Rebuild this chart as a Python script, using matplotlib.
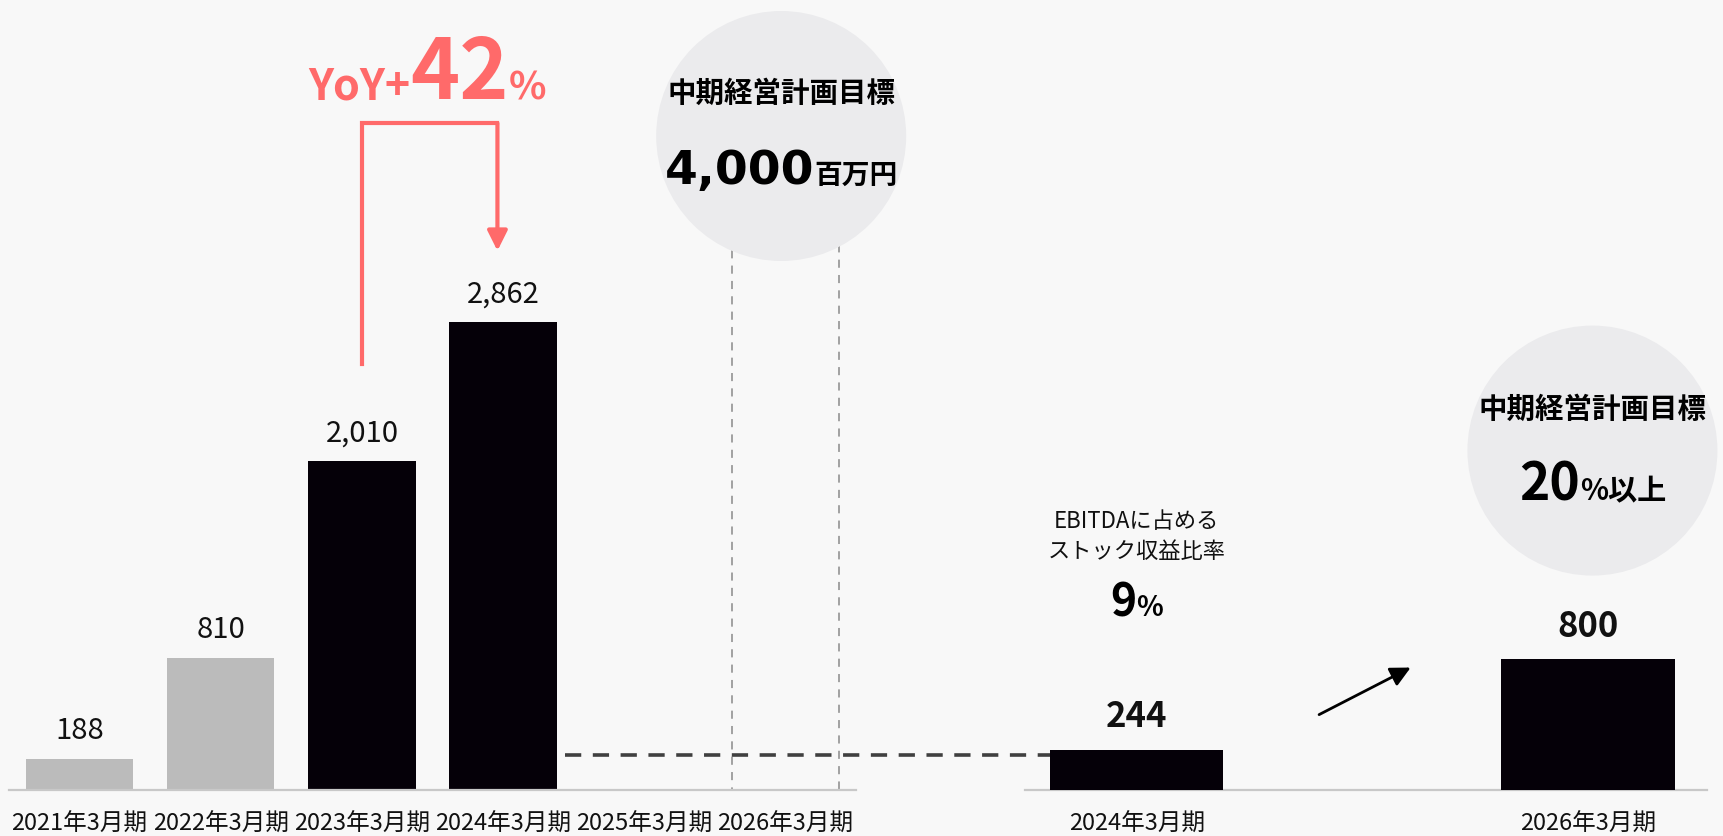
import matplotlib
matplotlib.use("Agg")
import matplotlib.pyplot as plt
from matplotlib.patches import Ellipse, Rectangle
from matplotlib.transforms import ScaledTranslation

plt.rcParams['font.family'] = ['Noto Sans CJK JP', 'DejaVu Sans']

# ---- data -------------------------------------------------------------
periods = ['2021年3月期', '2022年3月期', '2023年3月期',
           '2024年3月期', '2025年3月期', '2026年3月期']
ebitda = [188, 810, 2010, 2862]          # actuals (百万円)
ebitda_colors = ['#BBBBBB', '#BBBBBB', '#050008', '#050008']
ebitda_target = 4000                     # 2026年3月期 target
yoy_pct = 42

stock_periods = ['2024年3月期', '2026年3月期']
stock_profit = [244, 800]
stock_ratio_actual = 9
stock_ratio_target = 20

# ---- style ------------------------------------------------------------
BG = '#F8F8F8'
CIRCLE = '#EBEBED'
CORAL = '#FF6A6A'
BLACK = '#050008'
AXIS = '#C8C8C8'

W, H, DPI = 1723, 837, 100
BASE_PX = 791            # baseline, pixels from top
PX_PER_UNIT = 0.1635     # vertical scale shared by both panels
YTOP = BASE_PX / PX_PER_UNIT

fig = plt.figure(figsize=(W / DPI, H / DPI), dpi=DPI, facecolor=BG)


def panel(x0, x1, xlim):
    ax = fig.add_axes([x0 / W, (H - BASE_PX) / H, (x1 - x0) / W, BASE_PX / H])
    ax.set_facecolor('none')
    ax.set_xlim(*xlim)
    ax.set_ylim(0, YTOP)
    for s in ('left', 'right', 'top'):
        ax.spines[s].set_visible(False)
    ax.spines['bottom'].set_color(AXIS)
    ax.spines['bottom'].set_linewidth(1.6)
    ax.set_yticks([])
    ax.tick_params(axis='x', length=0, pad=16, labelsize=17, colors='#111111')
    ax.xpx = (x1 - x0) / (xlim[1] - xlim[0])   # pixels per x unit
    return ax


def circle(ax, x, y, r_px, z=3):
    e = Ellipse((x, y), 2 * r_px / ax.xpx, 2 * r_px / PX_PER_UNIT,
                facecolor=CIRCLE, edgecolor='none', zorder=z, clip_on=False)
    ax.add_patch(e)


renderer = fig.canvas.get_renderer()


def text_run(ax, x, y, pieces, color='#000000', dy_pt=0):
    """Centre a row of differently sized bold pieces on one baseline."""
    arts, widths = [], []
    for s, size, fam in pieces:
        kw = {} if fam is None else {'family': fam}
        t = ax.text(x, y, s, fontsize=size, fontweight='bold', color=color,
                    ha='left', va='baseline', zorder=6, clip_on=False, **kw)
        arts.append(t)
        widths.append(t.get_window_extent(renderer).width)
    off = -sum(widths) / 2
    for t, w in zip(arts, widths):
        t.set_transform(ax.transData + ScaledTranslation(off / DPI, dy_pt / 72,
                                                         fig.dpi_scale_trans))
        off += w


# ---- left panel: EBITDA ----------------------------------------------
axL = panel(9, 856, (-0.5, 5.5))
axL.set_xticks(range(len(periods)), periods)
xs = list(range(len(ebitda)))
axL.bar(xs, ebitda, width=0.76, color=ebitda_colors, zorder=2)
for x, v in zip(xs, ebitda):
    axL.annotate(f'{v:,}', (x, v), xytext=(0, 15), textcoords='offset points',
                 ha='center', va='baseline', fontsize=21, color='#111111')

# target outline bar
tx = len(periods) - 1
axL.add_patch(Rectangle((tx - 0.38, 0), 0.76, ebitda_target, facecolor='none',
                        edgecolor='#9A9A9A', linewidth=1.3,
                        linestyle=(0, (4.5, 4)), zorder=2))
circle(axL, tx - 0.03, ebitda_target, 125)
axL.annotate('中期経営計画目標', (tx - 0.03, ebitda_target), xytext=(0, 31),
             textcoords='offset points', ha='center', va='center',
             fontsize=20.5, fontweight='bold', zorder=6)
text_run(axL, tx - 0.03, ebitda_target,
         [(f'{ebitda_target:,}', 34, 'DejaVu Sans'), ('百万円', 20, None)],
         dy_pt=-34)

# YoY bracket arrow
lx, rx = 2, 2.96
leg_bottom, bracket_top, tip = 2604, 4079, 3298
axL.plot([lx, lx, rx], [leg_bottom, bracket_top, bracket_top], color=CORAL,
         lw=3.0, solid_capstyle='projecting', solid_joinstyle='miter',
         zorder=4, clip_on=False)
axL.annotate('', xy=(rx, tip), xytext=(rx, bracket_top),
             arrowprops=dict(arrowstyle='-|>,head_length=0.6,head_width=0.3',
                             mutation_scale=20, color=CORAL, lw=3.0,
                             shrinkA=0, shrinkB=0), zorder=4)
text_run(axL, 2.46, 4230,
         [('YoY+', 31, None), (f'{yoy_pct}', 60, None), ('%', 28, None)],
         color=CORAL)

# ---- right panel: stock profit ---------------------------------------
axR = panel(1025, 1707, (-0.248, 1.264))
axR.set_xticks(range(len(stock_periods)), stock_periods)
rxs = list(range(len(stock_profit)))
axR.bar(rxs, stock_profit, width=0.384, color=BLACK, zorder=3)
for x, v in zip(rxs, stock_profit):
    axR.annotate(f'{v:,}', (x, v), xytext=(0, 17), textcoords='offset points',
                 ha='center', va='baseline', fontsize=25, fontweight='bold',
                 color='#111111')

# dashed connector from the latest EBITDA bar to the stock-profit bar
x_start = axR.transData.inverted().transform(
    axL.transData.transform((3.44, 0)))[0]
axR.plot([x_start, -0.19], [stock_profit[0] - 30] * 2, color='#404040',
         lw=2.6, linestyle=(0, (4.5, 3.2)), zorder=2, clip_on=False)

# ratio annotation above the actual bar
axR.annotate('EBITDAに占める', (0, stock_profit[0]), xytext=(0, 165),
             textcoords='offset points', ha='center', va='center',
             fontsize=16, color='#111111')
axR.annotate('ストック収益比率', (0, stock_profit[0]), xytext=(0, 144),
             textcoords='offset points', ha='center', va='center',
             fontsize=16, color='#111111')
text_run(axR, 0, stock_profit[0],
         [(f'{stock_ratio_actual}', 32, None), ('%', 20, None)], dy_pt=97)

# growth arrow
axR.annotate('', xy=(0.607, 749), xytext=(0.404, 461),
             arrowprops=dict(arrowstyle='-|>,head_length=0.6,head_width=0.3',
                             mutation_scale=20, color='#000000', lw=2.0,
                             shrinkA=0, shrinkB=0))

# target circle
cy = 2076
circle(axR, 1.01, cy, 125)
axR.annotate('中期経営計画目標', (1.01, cy), xytext=(0, 30),
             textcoords='offset points', ha='center', va='center',
             fontsize=20.5, fontweight='bold', zorder=6)
text_run(axR, 1.01, cy,
         [(f'{stock_ratio_target}', 37, None), ('%以上', 21, None)], dy_pt=-35)

fig.savefig('out.png', dpi=DPI, facecolor=BG)
